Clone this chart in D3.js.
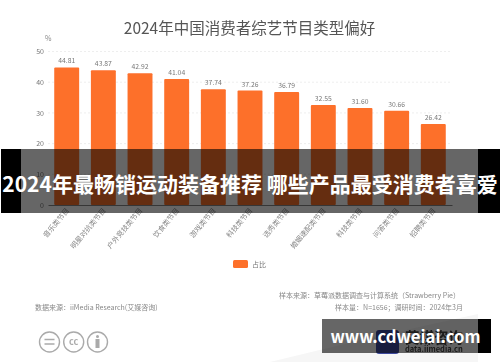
<!DOCTYPE html>
<html>
<head>
<meta charset="utf-8">
<script src="https://cdn.jsdelivr.net/npm/d3@7"></script>
<style>
  html, body { margin: 0; padding: 0; background: #fff; }
  svg { display: block; }
  text { font-family: "Noto Sans CJK SC", "Noto Sans", sans-serif; }
</style>
</head>
<body>
<svg id="chart" width="500" height="362"></svg>
<script>
// values
const categories = ["音乐类节目", "明星对抗类节目", "户外竞技类节目", "饮食类节目", "游戏类节目", "科技类节目",
  "选秀类节目", "婚姻速配类节目", "科技类节目", "问答类节目", "招聘类节目"];
const shares = [44.81, 43.87, 42.92, 41.04, 37.74, 37.26, 36.79, 32.55, 31.60, 30.66, 26.42];
const yTicks = [0, 10, 20, 30, 40, 50];

const width = 500;
const height = 362;
const margin = { top: 51.5, bottom: 157, left: 48, right: 48 };

const svg = d3.select("svg#chart");

// the source is a soft upscaled screenshot, everything under the banners gets a slight blur
svg.append("defs").append("filter")
  .attr("id", "soft")
  .attr("filterUnits", "userSpaceOnUse")
  .attr("x", 0).attr("y", 0)
  .attr("width", width).attr("height", height)
  .append("feGaussianBlur")
  .attr("stdDeviation", 0.35);

const base = svg.append("g").attr("filter", "url(#soft)");

// soft grey logo shape behind the corner banner
base.append("path")
  .attr("d", "M270 362 Q380 335 478 314 L478 362 Z")
  .attr("fill", "#f6f6f6");

const x = d3.scaleBand()
  .domain(d3.range(categories.length))
  .range([margin.left, width - margin.right])
  .paddingInner(0.32)
  .paddingOuter(0.17);

const y = d3.scaleLinear()
  .domain([0, 50])
  .range([height - margin.bottom, margin.top]);

// title
base.append("text")
  .attr("x", 249.5)
  .attr("y", 33.5)
  .attr("text-anchor", "middle")
  .attr("font-size", 15.5)
  .attr("fill", "#555")
  .text("2024年中国消费者综艺节目类型偏好");

base.append("text")
  .attr("x", 45).attr("y", 41)
  .attr("text-anchor", "start")
  .attr("font-size", 7)
  .attr("fill", "#888")
  .text("%");

// gridlines
base.append("g")
  .selectAll("line")
  .data(yTicks.filter(d => d > 0))
  .join("line")
  .attr("x1", margin.left)
  .attr("x2", 450)
  .attr("y1", d => y(d))
  .attr("y2", d => y(d))
  .attr("stroke", "#e6e6e6")
  .attr("stroke-width", 0.7)
  .attr("stroke-dasharray", "2,2");

// y axis labels
const yAxis = base.append("g")
  .attr("transform", "translate(" + margin.left + ",0)")
  .call(d3.axisLeft(y).tickValues(yTicks).tickSize(0).tickPadding(4));
yAxis.select(".domain").remove();
yAxis.selectAll("text")
  .attr("font-size", 7)
  .attr("fill", "#777");

// bars
base.append("g")
  .selectAll("rect")
  .data(shares)
  .join("rect")
  .attr("x", (d, i) => x(i))
  .attr("y", d => y(d))
  .attr("width", x.bandwidth())
  .attr("height", d => y(0) - y(d))
  .attr("rx", 1)
  .attr("fill", "#fd6f2c");

// value labels
base.append("g")
  .selectAll("text")
  .data(shares)
  .join("text")
  .attr("x", (d, i) => x(i) + x.bandwidth() / 2)
  .attr("y", d => y(d) - 4)
  .attr("text-anchor", "middle")
  .attr("font-size", 6.8)
  .attr("fill", "#777")
  .text(d => d.toFixed(2));

// x axis
const xAxis = base.append("g")
  .attr("transform", "translate(0," + y(0) + ")")
  .call(d3.axisBottom(x).tickSize(0).tickFormat(i => categories[i]));
xAxis.select(".domain").attr("stroke", "#888").attr("stroke-width", 1);
xAxis.selectAll("text")
  .attr("font-size", 7.2)
  .attr("fill", "#888")
  .attr("text-anchor", "end")
  .attr("x", 0)
  .attr("y", 0)
  .attr("dy", "0.35em")
  .attr("transform", "translate(1,4) rotate(-50)");

// legend
base.append("rect")
  .attr("x", 233).attr("y", 260)
  .attr("width", 15).attr("height", 8)
  .attr("rx", 1.5)
  .attr("fill", "#fd6f2c");
base.append("text")
  .attr("x", 252).attr("y", 267)
  .attr("font-size", 7)
  .attr("fill", "#777")
  .text("占比");

// footer
base.append("text")
  .attr("x", 35).attr("y", 309.5)
  .attr("font-size", 7)
  .attr("fill", "#888")
  .text("数据来源：iiMedia Research(艾媒咨询)");
base.append("text")
  .attr("x", 460).attr("y", 297.5)
  .attr("text-anchor", "end")
  .attr("font-size", 7)
  .attr("fill", "#888")
  .text("样本来源：草莓派数据调查与计算系统（Strawberry Pie）");
base.append("text")
  .attr("x", 463).attr("y", 309.5)
  .attr("text-anchor", "end")
  .attr("font-size", 7)
  .attr("fill", "#888")
  .text("样本量：N=1656；调研时间：2024年3月");

// licence badges
const badges = base.append("g")
  .attr("fill", "none")
  .attr("stroke", "#aaa")
  .attr("stroke-width", 1.4);
[49.5, 73.7, 97.5].forEach(cx => {
  badges.append("circle").attr("cx", cx).attr("cy", 342).attr("r", 10);
});
badges.append("path").attr("d", "M44.5 339.5 H54.5 M44.5 344 H54.5");
base.append("text")
  .attr("x", 73.7).attr("y", 345)
  .attr("text-anchor", "middle")
  .attr("font-size", 9)
  .attr("font-weight", 700)
  .attr("fill", "#aaa")
  .text("cc");
base.append("circle").attr("cx", 97.5).attr("cy", 336.5).attr("r", 1.5).attr("fill", "#aaa");
base.append("rect").attr("x", 95.5).attr("y", 339).attr("width", 4).attr("height", 9).attr("fill", "#aaa");

// corner logo, mostly behind the banner
base.append("rect")
  .attr("x", 376).attr("y", 330)
  .attr("width", 23).attr("height", 24)
  .attr("rx", 3)
  .attr("fill", "#3d4a9e");
base.append("text")
  .attr("x", 405).attr("y", 343)
  .attr("font-size", 14.5)
  .attr("font-weight", 700)
  .attr("fill", "#444")
  .text("艾媒咨询");
base.append("text")
  .attr("x", 405).attr("y", 352)
  .attr("font-size", 7.5)
  .attr("font-weight", 700)
  .attr("fill", "#444")
  .text("data.iimedia.cn");

// main banner over the chart, black ends and see-through middle
const bannerY = 149;
const bannerH = 64;
svg.append("rect").attr("x", 1).attr("y", bannerY).attr("width", 20).attr("height", bannerH).attr("fill", "#000");
svg.append("rect").attr("x", 478).attr("y", bannerY).attr("width", 22).attr("height", bannerH).attr("fill", "#000");
svg.append("rect").attr("x", 21).attr("y", bannerY).attr("width", 457).attr("height", bannerH).attr("fill", "#000").attr("fill-opacity", 0.6);
svg.append("text")
  .attr("x", 250)
  .attr("y", 192)
  .attr("text-anchor", "middle")
  .attr("font-size", 21)
  .attr("font-weight", 700)
  .attr("fill", "#fff")
  .text("2024年最畅销运动装备推荐 哪些产品最受消费者喜爱");

// corner banner
svg.append("rect").attr("x", 478).attr("y", 319).attr("width", 13).attr("height", 34).attr("fill", "#000");
svg.append("rect").attr("x", 322).attr("y", 319).attr("width", 156).attr("height", 34).attr("fill", "#000").attr("fill-opacity", 0.6);
svg.append("text")
  .attr("x", 405.5)
  .attr("y", 343)
  .attr("text-anchor", "middle")
  .attr("font-size", 16.7)
  .attr("font-weight", 700)
  .attr("fill", "#fff")
  .text("www.cdweiai.com");
</script>
</body>
</html>
